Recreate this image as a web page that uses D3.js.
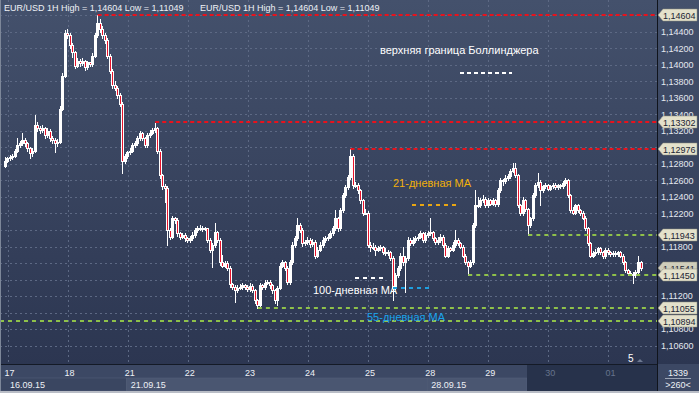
<!DOCTYPE html>
<html>
<head>
<meta charset="utf-8">
<script src="https://cdn.jsdelivr.net/npm/d3@7"></script>
<style>
    body { margin: 0; background: #2e3852; }
    svg { display: block; }
    text { font-family: "Liberation Sans", Arial, sans-serif; }
</style>
</head>
<body>
<div class="chart"></div>
<script>
// hourly candles, [open, high, low, close] in pips above 1.1000
const sep16 = [[278,288,276,284]];
const sep17 = [[284,289,282,287],[287,291,285,289],[289,292,286,290],[290,298,289,296],[296,311,294,303],[303,308,300,305],[305,318,303,309],[309,311,302,305],[305,307,296,299],[299,301,287,293],[293,299,290,296],[296,339,294,327],[327,331,320,324],[324,326,317,321],[321,327,319,323],[323,325,312,315],[315,323,313,320],[320,322,308,311],[311,314,305,309],[309,311,294,305],[305,310,302,307],[307,350,305,347],[347,390,345,387],[387,442,385,439]];
const sep18 = [[439,443,432,436],[436,438,421,424],[424,427,410,415],[415,417,396,399],[399,408,397,405],[405,407,398,402],[402,408,400,405],[405,406,394,397],[397,405,395,403],[403,404,398,401],[401,414,399,411],[411,439,409,436],[436,460,434,451],[451,455,440,444],[444,447,433,436],[436,438,427,430],[430,432,408,411],[411,413,390,393],[393,395,372,375],[375,380,369,372],[372,374,360,363],[363,366,350,353],[353,355,269,284],[284,292,281,290]];
const sep21 = [[290,296,287,294],[294,299,292,296],[296,305,294,303],[303,308,300,305],[305,314,303,311],[311,320,309,317],[317,319,309,311],[311,313,300,303],[303,318,301,315],[315,321,313,318],[318,324,316,321],[321,330,319,323],[323,325,293,296],[296,298,263,266],[266,268,250,253],[253,256,234,251],[251,253,182,200],[200,202,189,192],[192,217,190,214],[214,216,209,212],[212,214,193,196],[196,198,189,192],[192,196,190,194],[194,196,187,190]];
const sep22 = [[190,192,185,188],[188,193,186,190],[190,197,188,194],[194,203,192,200],[200,205,198,202],[202,206,200,203],[203,205,199,202],[202,204,200,202],[202,203,185,188],[188,190,173,176],[176,184,155,182],[182,208,180,197],[197,199,185,188],[188,190,158,161],[161,170,155,157],[157,163,155,160],[160,162,151,154],[154,156,131,134],[134,136,128,131],[131,133,113,127],[127,133,125,130],[130,135,128,131],[131,136,129,133],[133,135,129,131]];
const sep23 = [[131,133,126,128],[128,136,126,132],[132,134,125,127],[127,129,112,115],[115,117,105,109],[109,136,107,133],[133,135,129,131],[131,139,129,136],[136,140,134,137],[137,139,130,133],[133,135,124,127],[127,129,112,115],[115,132,109,130],[130,160,128,157],[157,164,155,161],[161,163,151,154],[154,156,134,137],[137,164,135,161],[161,185,159,182],[182,193,180,190],[190,214,188,206],[206,209,197,200],[200,202,181,184],[184,188,182,185]];
const sep24 = [[185,191,183,188],[188,190,180,183],[183,189,181,186],[186,188,166,169],[169,179,167,176],[176,185,174,182],[182,191,180,188],[188,193,186,190],[190,195,188,192],[192,199,190,196],[196,205,194,202],[202,224,200,214],[214,216,199,202],[202,227,200,224],[224,245,222,242],[242,255,240,252],[252,267,250,264],[264,298,262,290],[290,292,251,254],[254,258,252,255],[255,257,245,248],[248,250,233,236],[236,238,218,221],[221,225,219,221]];
const sep25 = [[221,223,179,182],[182,186,175,179],[179,184,177,180],[180,182,170,176],[176,181,174,178],[178,182,176,179],[179,181,171,173],[173,178,170,172],[172,176,170,173],[173,175,164,166],[166,168,115,130],[130,148,128,145],[145,157,143,154],[154,172,152,169],[169,179,158,161],[161,168,125,166],[166,191,164,188],[188,190,182,184],[184,191,182,188],[188,193,186,190],[190,195,188,192],[192,199,190,196],[196,198,186,188],[188,197,186,194]];
const sep28 = [[194,199,192,196],[196,214,194,197],[197,199,188,190],[190,192,183,185],[185,191,183,188],[188,195,186,192],[192,194,180,182],[182,184,167,169],[169,181,167,178],[178,180,174,176],[176,185,174,182],[182,200,180,188],[188,190,182,184],[184,186,178,180],[180,182,167,169],[169,171,159,161],[161,163,145,157],[157,164,155,161],[161,209,159,206],[206,248,204,230],[230,240,228,230],[230,239,228,236],[236,242,234,238],[238,240,228,230]];
const sep29 = [[230,239,228,236],[236,238,230,232],[232,239,230,236],[236,238,229,231],[231,251,229,248],[248,263,246,260],[260,262,255,259],[259,266,257,263],[263,268,261,265],[265,274,263,272],[272,281,270,275],[275,281,264,266],[266,268,228,230],[230,232,218,220],[220,240,218,236],[236,238,223,225],[225,227,194,206],[206,216,204,214],[214,245,212,242],[242,257,240,254],[254,269,252,258],[258,260,230,248],[248,255,246,253],[253,257,251,254]];
const sep30 = [[254,256,248,250],[250,255,248,253],[253,257,251,255],[255,257,250,252],[252,256,250,254],[254,256,251,253],[253,259,251,257],[257,263,255,260],[260,262,240,242],[242,244,222,224],[224,228,219,221],[221,232,219,230],[230,232,222,224],[224,226,218,220],[220,223,213,215],[215,217,200,202],[202,204,182,184],[184,186,167,169],[169,175,167,172],[172,177,170,173],[173,180,171,178],[178,180,171,173],[173,175,166,168],[168,178,166,176]];
const oct01 = [[176,178,171,173],[173,175,169,171],[171,174,169,172],[172,174,169,171],[171,175,169,173],[173,175,167,169],[169,171,159,161],[161,163,149,151],[151,153,146,148],[148,150,145,147],[147,149,136,145],[145,151,143,149],[149,168,147,161],[161,163,152,154]];

const days = [sep16, sep17, sep18, sep21, sep22, sep23, sep24, sep25, sep28, sep29, sep30, oct01];
const dayLabels = ["", "17", "18", "21", "22", "23", "24", "25", "28", "29", "30", "01"];
const weekLabels = ["16.09.15", "21.09.15", "28.09.15"];
const weekFirstDay = [0, 3, 8];

const priceTicks = [1.106, 1.108, 1.110, 1.112, 1.114, 1.116, 1.118, 1.120, 1.122, 1.124, 1.126, 1.128,
    1.130, 1.132, 1.134, 1.136, 1.138, 1.140, 1.142, 1.144, 1.146];

// horizontal levels: value + candle index where the line starts
const redLevels = [[1.14604, 37], [1.13302, 60], [1.12976, 138]];
const greenLevels = [[1.11943, 209], [1.11450, 185], [1.11055, 101], [1.10894, -2]];
const lastPrice = 1.11541;

const header = "EUR/USD 1H High = 1,14604 Low = 1,11049";
const barsTotal = "1339";
const barsVisible = ">260<";

const W = 699, H = 393;
const plotRight = 657, plotBottom = 364;

const toPrice = (p) => 1.1 + p / 10000;
const fmt = (v) => d3.format(".5f")(v).replace(".", ",");

const candles = [];
const dayStart = [];
days.forEach(d => {
    dayStart.push(candles.length);
    d.forEach(c => candles.push({ o: toPrice(c[0]), h: toPrice(c[1]), l: toPrice(c[2]), c: toPrice(c[3]) }));
});

const x = d3.scaleLinear().domain([0, candles.length - 1]).range([5, 641]);
const y = d3.scaleLinear().domain([1.106, 1.146]).range([345.6, 15.3]);

const svg = d3.select(".chart").append("svg")
    .attr("width", W)
    .attr("height", H);

const defs = svg.append("defs");
const grad = defs.append("linearGradient").attr("id", "bg").attr("x1", 0).attr("y1", 0).attr("x2", 0).attr("y2", 1);
grad.append("stop").attr("offset", "0%").attr("stop-color", "#44516c");
grad.append("stop").attr("offset", "100%").attr("stop-color", "#2c3651");

svg.append("rect").attr("width", W).attr("height", plotBottom).attr("fill", "url(#bg)");

// grid
const grid = svg.append("g").attr("class", "grid")
    .attr("stroke", "#5d6984").attr("stroke-width", 1).attr("stroke-dasharray", "2,3");
grid.selectAll(".hgrid").data(priceTicks).enter().append("line")
    .attr("x1", 0).attr("x2", plotRight)
    .attr("y1", d => Math.round(y(d)) + 0.5).attr("y2", d => Math.round(y(d)) + 0.5);
grid.selectAll(".vgrid").data(dayStart.slice(1)).enter().append("line")
    .attr("x1", d => Math.round(x(d)) + 0.5).attr("x2", d => Math.round(x(d)) + 0.5)
    .attr("y1", 0).attr("y2", plotBottom);

// candles
const cg = svg.append("g").attr("class", "candles");
const candle = cg.selectAll(".candle").data(candles).enter().append("g").attr("class", "candle");
candle.append("line")
    .attr("x1", (d, i) => Math.floor(x(i)) + 0.5)
    .attr("x2", (d, i) => Math.floor(x(i)) + 0.5)
    .attr("y1", d => Math.round(y(d.h)))
    .attr("y2", d => Math.round(y(d.l)) + 1)
    .attr("stroke", "#ffffff");
candle.append("rect")
    .attr("x", (d, i) => Math.floor(x(i)) - 0.5)
    .attr("y", d => Math.round(y(Math.max(d.o, d.c))) + 0.5)
    .attr("width", 2)
    .attr("height", d => Math.max(1, Math.round(y(Math.min(d.o, d.c))) - Math.round(y(Math.max(d.o, d.c)))))
    .attr("fill", d => d.c >= d.o ? "#ffffff" : "#e8132b")
    .attr("stroke", "#ffffff");

// levels
const levels = svg.append("g").attr("class", "levels").attr("stroke-width", 2);
levels.selectAll(".red").data(redLevels).enter().append("line")
    .attr("x1", d => x(d[1])).attr("x2", plotRight)
    .attr("y1", d => Math.round(y(d[0]))).attr("y2", d => Math.round(y(d[0])))
    .attr("stroke", "#e8121c").attr("stroke-dasharray", "4,3");
levels.selectAll(".green").data(greenLevels).enter().append("line")
    .attr("x1", d => Math.max(0, x(d[1]))).attr("x2", plotRight)
    .attr("y1", d => Math.round(y(d[0]))).attr("y2", d => Math.round(y(d[0])))
    .attr("stroke", "#8fc14a").attr("stroke-dasharray", "4,4");

// annotations (legend-ish)
const notes = svg.append("g").attr("class", "notes").attr("font-size", "11px");
notes.append("text").attr("x", 380).attr("y", 54).attr("fill", "#ffffff").text("верхняя граница Боллинджера");
notes.append("line").attr("x1", 460).attr("x2", 512).attr("y1", 73).attr("y2", 73)
    .attr("stroke", "#ffffff").attr("stroke-width", 2).attr("stroke-dasharray", "4,3");
notes.append("text").attr("x", 393).attr("y", 187).attr("fill", "#f2b10a").text("21-дневная MA");
notes.append("line").attr("x1", 412).attr("x2", 456).attr("y1", 205).attr("y2", 205)
    .attr("stroke", "#e9a612").attr("stroke-width", 2).attr("stroke-dasharray", "4,4");
notes.append("line").attr("x1", 355).attr("x2", 383).attr("y1", 278).attr("y2", 278)
    .attr("stroke", "#ffffff").attr("stroke-width", 2).attr("stroke-dasharray", "4,4");
notes.append("text").attr("x", 313).attr("y", 294).attr("fill", "#ffffff").text("100-дневная MA");
notes.append("line").attr("x1", 393).attr("x2", 430).attr("y1", 288).attr("y2", 288)
    .attr("stroke", "#1e9fe0").attr("stroke-width", 2).attr("stroke-dasharray", "4,4");
notes.append("text").attr("x", 367).attr("y", 321).attr("fill", "#1aa3ea").text("55-дневная MA");

// header
const hd = svg.append("g").attr("font-size", "9px").attr("fill", "#eef1f6");
hd.append("text").attr("x", 4).attr("y", 11).text(header);
hd.append("text").attr("x", 200).attr("y", 11).text(header);

// small marker near the last bars
svg.append("text").attr("x", 628).attr("y", 362).attr("font-size", "10px").attr("fill", "#ffffff").text("5");
svg.append("path").attr("d", "M637,362 L640,359 L643,362 Z").attr("fill", "#6d7890");

// right price axis
svg.append("line").attr("x1", plotRight + 0.5).attr("x2", plotRight + 0.5).attr("y1", 0).attr("y2", 391)
    .attr("stroke", "#10141c");

const boxLevels = [lastPrice].concat(redLevels.concat(greenLevels).map(d => d[0]));
// ticks that sit under a level box are not drawn (they are covered there anyway)
const visibleTicks = priceTicks.filter(t => boxLevels.every(b => Math.abs(y(t) - y(b)) >= 6));

const axis = svg.append("g").attr("class", "y axis")
    .attr("transform", `translate(${plotRight},0)`)
    .call(d3.axisRight(y).tickValues(visibleTicks).tickSize(0).tickPadding(4).tickFormat(fmt));
axis.select(".domain").remove();
axis.selectAll("text").attr("font-size", "9px").attr("fill", "#e4e8f0").attr("font-family", "Liberation Sans, Arial, sans-serif");

const box = svg.append("g").attr("class", "boxes").selectAll(".box").data(boxLevels).enter().append("g")
    .attr("transform", d => `translate(0,${Math.round(y(d))})`);
box.append("path").attr("d", "M658,0 L663,-6 L697,-6 L697,6 L663,6 Z")
    .attr("fill", d => d === lastPrice ? "#cfcdbb" : "#e4e1cb").attr("stroke", "#8e8c7c").attr("stroke-width", 0.5);
box.append("text").attr("x", 663).attr("y", 3.5).attr("font-size", "9px").attr("fill", "#1b2434")
    .text(d => fmt(d));

// bottom time axis
const bottom = svg.append("g").attr("class", "x axis");
bottom.append("rect").attr("x", 0).attr("y", plotBottom).attr("width", plotRight).attr("height", 14).attr("fill", "#3c4864");
const weekEnds = weekFirstDay.slice(1).map(k => x(dayStart[k]) - 1).concat([527]);
weekLabels.forEach((lab, k) => {
    const x0 = k === 0 ? 0 : x(dayStart[weekFirstDay[k]]) - 1;
    bottom.append("rect").attr("x", x0).attr("y", 378).attr("width", weekEnds[k] - x0).attr("height", 13)
        .attr("fill", k === 0 ? "#3a4661" : "#4a5671").attr("stroke", "#56627c").attr("stroke-width", 0.5);
    bottom.append("text").attr("x", x0 + (k === 0 ? 10 : 4)).attr("y", 388).attr("font-size", "9px")
        .attr("fill", "#eef1f6").text(lab);
});
// TODO: the dark part is the part of the scroll-window that is not loaded yet
bottom.append("rect").attr("x", 527).attr("y", plotBottom).attr("width", plotRight - 527).attr("height", 27).attr("fill", "#27324b");
bottom.selectAll(".day").data(dayLabels).enter().append("text")
    .attr("x", (d, i) => x(dayStart[i]) - 3)
    .attr("y", 376)
    .attr("font-size", "9px")
    .attr("fill", (d, i) => x(dayStart[i]) > 527 ? "#66738c" : "#eef1f6")
    .text(d => d);
bottom.append("line").attr("x1", 0).attr("x2", plotRight).attr("y1", plotBottom + 0.5).attr("y2", plotBottom + 0.5).attr("stroke", "#141a26");

// right bottom panel
svg.append("rect").attr("x", plotRight + 1).attr("y", plotBottom).attr("width", W - plotRight - 1).attr("height", 27).attr("fill", "#3c4864");
svg.append("text").attr("x", 678).attr("y", 376).attr("text-anchor", "middle").attr("font-size", "9px").attr("fill", "#eef1f6").text(barsTotal);
svg.append("line").attr("x1", 665).attr("x2", 691).attr("y1", 378.5).attr("y2", 378.5).attr("stroke", "#9aa3b4");
svg.append("text").attr("x", 678).attr("y", 388).attr("text-anchor", "middle").attr("font-size", "9px").attr("fill", "#eef1f6").text(barsVisible);

svg.append("rect").attr("x", 0).attr("y", 391).attr("width", W).attr("height", 2).attr("fill", "#b9bdc6");
svg.append("rect").attr("x", 0).attr("y", 0).attr("width", 1).attr("height", 391).attr("fill", "#7d8799");
</script>
</body>
</html>
